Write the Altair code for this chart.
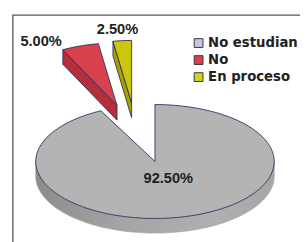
import numpy as np
import pandas as pd
import altair as alt

# ---- data ----
categories = ["No estudian", "No", "En proceso"]
values = [92.5, 5.0, 2.5]
labels = ["92.50%", "5.00%", "2.50%"]

# ---- layout / style (kept apart from the data) ----
CX, CY, RX, RY, DEPTH = 159.0, 162.5, 122.5, 58.5, 15.0
EXPLODE = {"No estudian": (0.0, 0.0), "No": (-39.0, -57.5), "En proceso": (-24.0, -60.0)}
RY_SCALE = {"No estudian": 1.0, "No": 1.1, "En proceso": 1.1}
LABEL_K = {"No estudian": 0.32, "No": 1.0, "En proceso": 1.0}
LABEL_NUDGE = {"No estudian": (4.5, -1.5), "No": (-40.1, -5.3), "En proceso": (-4.9, -12.3)}
TOP_COL = {"No estudian": "#b4b4b4", "No": "#d9414c", "En proceso": "#cbc70c"}
SIDE_COL = {"No estudian": "#a2a2a2", "No": "#b52e3a", "En proceso": "#a6a200"}
LEGEND_COL = ["#c4c8dc", "#e23c4a", "#d4d41a"]
EDGE = "#2e2e5e"


def ell(a_deg, ox, oy, ry, dz=0.0):
    a = np.radians(a_deg)
    return (ox + RX * np.sin(a), oy - ry * np.cos(a) + dz)


rows = []


def add(poly, face, pts):
    for i, (x, y) in enumerate(pts):
        rows.append({"poly": poly, "face": face, "i": i, "x": float(x), "y": float(y)})


total = float(sum(values))
bounds = np.concatenate([[0.0], np.cumsum(values)]) / total * 360.0
lab_rows = []
for k, cat in enumerate(categories):
    a0, a1 = bounds[k], bounds[k + 1]
    ex, ey = EXPLODE[cat]
    ox, oy = CX + ex, CY + ey
    ry = RY * RY_SCALE[cat]
    n = max(3, int((a1 - a0) / 2) + 2)
    arc = np.linspace(a0, a1, n)
    top = [(ox, oy)] + [ell(a, ox, oy, ry) for a in arc] + [(ox, oy)]
    add(f"{cat}|top", f"{cat}|top", top)
    s, e = max(a0, 90.0), min(a1, 270.0)
    if e > s:
        ang = np.linspace(s, e, max(3, int((e - s) / 2) + 2))
        pts = [ell(a, ox, oy, ry) for a in ang] + [ell(a, ox, oy, ry, DEPTH) for a in ang[::-1]]
        pts.append(pts[0])
        add(f"{cat}|rim", f"{cat}|rim", pts)
    for j, (edge, normal) in enumerate(((a0, a0 - 90.0), (a1, a1 + 90.0))):
        if np.cos(np.radians(normal)) < -1e-6:
            p = ell(edge, ox, oy, ry)
            pts = [(ox, oy), p, (p[0], p[1] + DEPTH), (ox, oy + DEPTH), (ox, oy)]
            add(f"{cat}|cut{j}", f"{cat}|side", pts)
    mid = np.radians((a0 + a1) / 2)
    kk = LABEL_K[cat]
    nx, ny = LABEL_NUDGE[cat]
    lab_rows.append({"cat": cat, "label": labels[k],
                     "x": ox + RX * np.sin(mid) * kk + nx,
                     "y": oy - ry * np.cos(mid) * kk + ny})

poly_df = pd.DataFrame(rows)
lab_df = pd.DataFrame(lab_rows)
leg_df = pd.DataFrame({"cat": categories})

face_domain = [f"{c}|top" for c in categories] + [f"{c}|side" for c in categories]
face_fill = [TOP_COL[c] for c in categories] + [SIDE_COL[c] for c in categories]
face_stroke = [EDGE] * 6

xs = alt.Scale(domain=[8, 308], nice=False, zero=False)
ys = alt.Scale(domain=[8, 242], nice=False, zero=False, reverse=True)
X = alt.X("x:Q", scale=xs, axis=None)
Y = alt.Y("y:Q", scale=ys, axis=None)

frame = alt.Chart(pd.DataFrame({"a": [0]})).mark_rect(
    fill="white", stroke="#555555", strokeWidth=1.3
).encode(x=alt.value(5), y=alt.value(4), x2=alt.value(400), y2=alt.value(400))

rim = alt.Chart(poly_df).transform_filter(
    alt.datum.face == "No estudian|rim"
).mark_line(
    strokeWidth=0.6, stroke="#9a9a9a", strokeJoin="round",
    fill=alt.Gradient(
        gradient="linear", x1=0, y1=0, x2=1, y2=0,
        stops=[alt.GradientStop(color="#8c8c8c", offset=0),
               alt.GradientStop(color="#a4a4a4", offset=0.35),
               alt.GradientStop(color="#b0b0b0", offset=0.75),
               alt.GradientStop(color="#a6a6a6", offset=1)],
    ),
).encode(x=X, y=Y, detail="poly:N", order=alt.Order("i:Q"))


def faces(kind):
    return alt.Chart(poly_df).transform_filter(
        alt.expr.indexof(alt.datum.face, kind) >= 0
    ).mark_line(strokeWidth=0.9, strokeJoin="round", interpolate="linear").encode(
        x=X, y=Y,
        detail="poly:N",
        order=alt.Order("i:Q"),
        fill=alt.Fill("face:N", scale=alt.Scale(domain=face_domain, range=face_fill), legend=None),
        stroke=alt.Stroke("face:N", scale=alt.Scale(domain=face_domain, range=face_stroke), legend=None),
    )


sides = faces("|side")
tops = faces("|top")

text = alt.Chart(lab_df).mark_text(
    font="Liberation Sans", fontWeight="bold", fontSize=15, color="#222222",
    align="center", baseline="middle"
).encode(x=X, y=Y, text="label:N")

legend_pts = alt.Chart(leg_df).mark_point(filled=True, shape="square", opacity=0).encode(
    x=alt.value(0), y=alt.value(0),
    color=alt.Color(
        "cat:N",
        scale=alt.Scale(domain=categories, range=LEGEND_COL),
        legend=alt.Legend(
            title=None, orient="none", legendX=189, legendY=26, padding=0,
            symbolType="square", symbolSize=81, symbolStrokeWidth=1,
            symbolStrokeColor="#333344", symbolOpacity=1,
            labelFont="DejaVu Sans", labelFontWeight="bold", labelFontSize=13.6,
            labelColor="#222222", labelOffset=3, rowPadding=2.5, labelLimit=300,
        ),
    ),
)

chart = alt.layer(frame, rim, sides, tops, text, legend_pts).properties(
    width=300, height=234, padding=0,
    autosize=alt.AutoSizeParams(type="none"),
    background="white",
).configure_view(strokeWidth=0)

chart.save("out.html", embed_options={"renderer": "svg", "actions": False})
